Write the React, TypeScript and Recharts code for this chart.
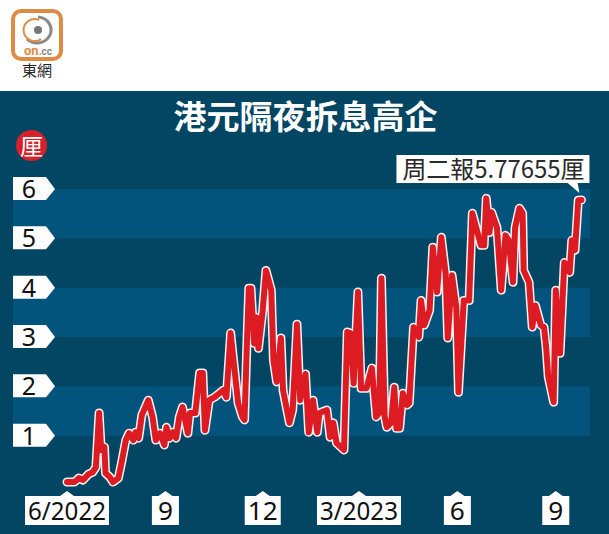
import React from 'react';
import { LineChart, Line, XAxis, YAxis, ReferenceArea, ReferenceDot } from 'recharts';

// days since 1 June 2022
const days = [
  0, 7, 11, 15, 20, 24, 27, 30, 32, 35, 36, 40, 43, 48, 51, 55, 58, 62, 64, 67,
  70, 76, 80, 83, 87, 91, 93, 96, 99, 102, 105, 108, 113, 115, 120, 124, 127, 129, 133, 138,
  146, 149, 153, 155, 160, 164, 166, 168, 170, 172, 175, 177, 179, 183, 186, 191, 193, 196, 200, 202,
  208, 211, 215, 218, 223, 226, 230, 234, 236, 243, 246, 249, 252, 259, 262, 265, 268, 272, 275, 280,
  285, 289, 292, 294, 297, 299, 303, 306, 308, 311, 314, 318, 320, 324, 329, 331, 334, 339, 342, 346,
  350, 354, 356, 360, 364, 366, 371, 376, 379, 387, 390, 392, 395, 397, 402, 406, 410, 413, 417, 419,
  423, 426, 427, 432, 435, 438, 443, 446, 448, 450, 455, 457, 461, 465, 470, 472, 475, 478, 481,
];

const rates = [
  0.06, 0.06, 0.14, 0.1, 0.22, 0.26, 0.36, 1.46, 0.71, 0.77, 0.24, 0.16, 0.06, 0.14, 0.45, 0.91, 1.05, 0.91, 1.07, 0.95,
  1.42, 1.72, 1.38, 0.91, 1.05, 0.81, 1.17, 0.95, 1.07, 0.95, 1.38, 1.58, 1.05, 1.46, 1.46, 2.27, 2.27, 1.11, 1.72, 1.78,
  1.92, 1.78, 3.08, 2.67, 1.66, 1.38, 1.32, 2.73, 3.99, 3.99, 2.87, 3.4, 2.77, 3.54, 4.35, 3.95, 2.53, 2.09, 2.98, 1.92,
  1.26, 1.52, 3.26, 1.72, 2.25, 1.07, 1.72, 1.07, 1.46, 1.52, 0.97, 1.26, 0.85, 0.71, 3.1, 3.08, 2.06, 3.91, 1.96, 1.96,
  2.37, 1.38, 1.46, 4.19, 1.38, 1.17, 1.26, 1.98, 1.15, 1.15, 1.86, 1.62, 1.66, 3.2, 3.0, 3.74, 3.24, 3.54, 4.82, 3.91,
  5.02, 4.29, 2.98, 4.25, 3.6, 1.88, 3.74, 3.74, 5.51, 4.86, 4.86, 5.81, 5.12, 5.53, 5.22, 3.95, 5.06, 4.96, 4.11, 5.22,
  5.61, 5.51, 4.35, 4.11, 3.2, 3.64, 3.24, 3.2, 2.79, 2.19, 1.68, 3.95, 2.67, 4.51, 4.31, 4.96, 4.76, 5.77, 5.77655,
];

const yTicks = [1, 2, 3, 4, 5, 6];
const xTicks = [0, 92, 183, 273, 365, 457];
const xLabels = ['6/2022', '9', '12', '3/2023', '6', '9'];
const bands = [[5, 6], [3, 4], [1, 2]];

const title = '港元隔夜拆息高企';
const unit = '厘';
const callout = '周二報5.77655厘';

const chartData = days.map((day, i) => ({ day, rate: rates[i] }));

const CJK = '"Noto Sans CJK TC", "Noto Sans", sans-serif';
const NUM = '"Noto Sans", "Noto Sans CJK TC", sans-serif';

const YTag = ({ x, y, payload }: any) => (
  <g>
    <polygon
      points={`${x},${y - 12} ${x + 33},${y - 12} ${x + 42},${y} ${x + 33},${y + 11} ${x},${y + 11}`}
      fill="#ffffff"
    />
    <text x={x + 16} y={y + 9} textAnchor="middle" fontSize={25} fontFamily={NUM} fill="#111">
      {payload.value}
    </text>
  </g>
);

const XTag = ({ x, payload, index }: any) => {
  const label = xLabels[index];
  const w = label.length > 2 ? 78 : label.length * 15;
  const half = label.length > 2 ? 42 : w / 2 + (label.length > 1 ? 3 : 6);
  return (
    <g>
      <polygon
        points={`${x - half},496 ${x - 7},496 ${x},491 ${x + 7},496 ${x + half},496 ${x + half},525 ${x - half},525`}
        fill="#ffffff"
      />
      <text
        x={x}
        y={520}
        textAnchor="middle"
        fontSize={26}
        fontFamily={NUM}
        fill="#111"
        textLength={w}
        lengthAdjust="spacingAndGlyphs"
      >
        {label}
      </text>
    </g>
  );
};

const Callout = ({ cx, cy }: any) => (
  <g>
    <rect x={cx - 185} y={cy - 45} width={193} height={28} fill="#ffffff" />
    <polygon points={`${cx - 15},${cy - 18} ${cx - 4},${cy - 18} ${cx - 2},${cy - 7}`} fill="#ffffff" />
    <text
      x={cx - 179}
      y={cy - 22}
      fontSize={24}
      fontFamily={CJK}
      fill="#2a2a2a"
      textLength={182}
      lengthAdjust="spacingAndGlyphs"
    >
      {callout}
    </text>
  </g>
);

const Logo = () => (
  <svg width={80} height={90} style={{ position: 'absolute', left: 0, top: 0 }}>
    <rect x={13} y={11} width={48} height={48} rx={8} fill="#ffffff" stroke="#e08b42" strokeWidth={4} />
    <path d="M38 17 A14 13 0 1 1 27 39" fill="none" stroke="#8a8a8a" strokeWidth={3} />
    <path d="M39 20 A11 11 0 1 0 41 39" fill="none" stroke="#e08b42" strokeWidth={2} />
    <circle cx={38} cy={30} r={4} fill="#777777" />
    <text x={24} y={55} fontSize={13} fontWeight={700} fontFamily="Roboto, sans-serif" fill="#e08b42">
      on
      <tspan fontSize={10} fill="#888888">.cc</tspan>
    </text>
    <text x={37} y={76} textAnchor="middle" fontSize={15} fontFamily={CJK} fill="#222">
      東網
    </text>
  </svg>
);

export default function App() {
  return (
    <div style={{ position: 'absolute', left: 0, top: 0, width: 609, height: 534, background: '#ffffff', overflow: 'hidden' }}>
      <Logo />
      <div style={{ position: 'absolute', left: 0, top: 91, width: 609, height: 443, background: '#034663' }} />
      <div style={{ position: 'absolute', left: 0, top: 95, width: 611, textAlign: 'center', color: '#fff', fontFamily: CJK, fontWeight: 700, fontSize: 33, lineHeight: '40px' }}>
        {title}
      </div>
      <div style={{ position: 'absolute', left: 16, top: 130, width: 31, height: 31, borderRadius: '50%', background: '#d8202a', color: '#fff', fontFamily: CJK, fontSize: 23, lineHeight: '30px', textAlign: 'center' }}>
        {unit}
      </div>
      <div style={{ position: 'absolute', left: 0, top: 0 }}>
        <LineChart width={609} height={534} data={chartData} margin={{ top: 189, right: 19, bottom: 0, left: 0 }}>
          <XAxis
            type="number"
            dataKey="day"
            domain={[-50.5, 489]}
            ticks={xTicks}
            height={49}
            axisLine={false}
            tickLine={false}
            interval={0}
            tick={<XTag />}
          />
          <YAxis
            type="number"
            domain={[0, 6]}
            ticks={yTicks}
            width={13}
            axisLine={false}
            tickLine={false}
            tickSize={0}
            tickMargin={0}
            tick={<YTag />}
          />
          {bands.map(([y1, y2]) => (
            <ReferenceArea key={y1} y1={y1} y2={y2} fill="#03547c" fillOpacity={1} stroke="none" />
          ))}
          <Line dataKey="rate" stroke="#f4f4f4" strokeWidth={9} dot={false} strokeLinejoin="round" strokeLinecap="round" isAnimationActive={false} />
          <Line dataKey="rate" stroke="#dc1c22" strokeWidth={6} dot={false} strokeLinejoin="round" strokeLinecap="round" isAnimationActive={false} />
          <ReferenceDot x={481} y={5.77655} shape={<Callout />} ifOverflow="visible" />
        </LineChart>
      </div>
    </div>
  );
}
